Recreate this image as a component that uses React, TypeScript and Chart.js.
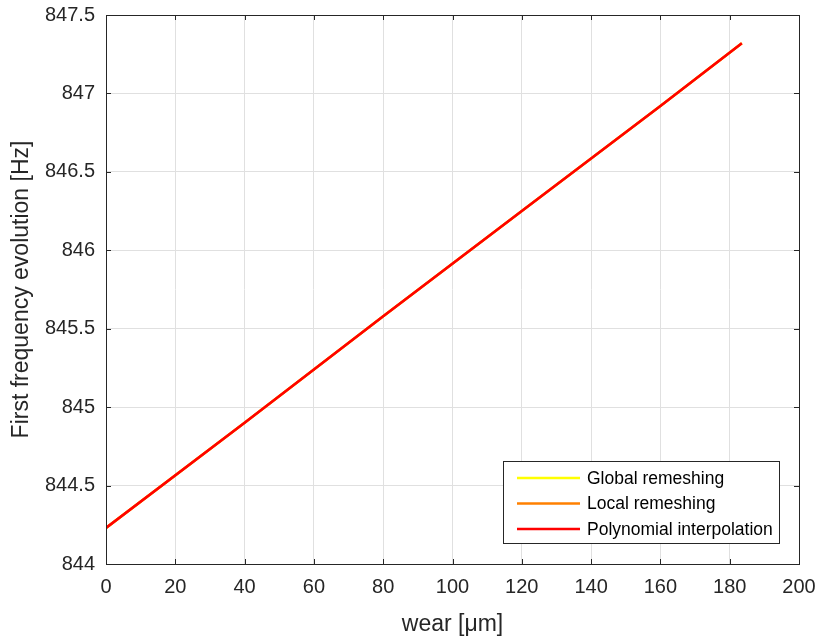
import React, { useEffect, useRef } from "react";
import { Chart, registerables } from "chart.js";

Chart.register(...registerables);

// ---- data ----
const wear = [0, 40, 80, 120, 160, 183.5];
const globalRemeshing = [844.23, 844.9, 845.58, 846.25, 846.92, 847.32];
const localRemeshing = [844.23, 844.9, 845.58, 846.25, 846.92, 847.32];
const polynomialInterpolation = [844.23, 844.9, 845.58, 846.25, 846.92, 847.32];

const seriesLabels = ["Global remeshing", "Local remeshing", "Polynomial interpolation"];
const seriesColors = ["#ffff00", "#ff8000", "#ff0000"];

const xTicks = [0, 20, 40, 60, 80, 100, 120, 140, 160, 180, 200];
const yTicks = [844, 844.5, 845, 845.5, 846, 846.5, 847, 847.5];
const xTitle = "wear [\u03BCm]";
const yTitle = "First frequency evolution [Hz]";

const TEXT = "#262626";
const FONT = "'Liberation Sans', Arial, sans-serif";

const frame = {
  id: "frame",
  afterDraw(chart: any) {
    const { ctx, chartArea: a, scales } = chart;
    ctx.save();
    // box
    ctx.strokeStyle = TEXT;
    ctx.lineWidth = 1;
    ctx.strokeRect(Math.round(a.left) + 0.5, Math.round(a.top) + 0.5, Math.round(a.right - a.left), Math.round(a.bottom - a.top));
    // inward tick marks
    const tl = 5;
    ctx.beginPath();
    xTicks.forEach((v) => {
      const x = Math.round(scales.x.getPixelForValue(v)) + 0.5;
      ctx.moveTo(x, a.bottom);
      ctx.lineTo(x, a.bottom - tl);
      ctx.moveTo(x, a.top);
      ctx.lineTo(x, a.top + tl);
    });
    yTicks.forEach((v) => {
      const y = Math.round(scales.y.getPixelForValue(v)) + 0.5;
      ctx.moveTo(a.left, y);
      ctx.lineTo(a.left + tl, y);
      ctx.moveTo(a.right, y);
      ctx.lineTo(a.right - tl, y);
    });
    ctx.stroke();

    // axis titles
    ctx.fillStyle = TEXT;
    ctx.font = `23px ${FONT}`;
    ctx.textAlign = "center";
    ctx.textBaseline = "middle";
    ctx.fillText(xTitle, (a.left + a.right) / 2, 625);
    ctx.translate(22, (a.top + a.bottom) / 2);
    ctx.rotate(-Math.PI / 2);
    ctx.fillText(yTitle, 0, 0);
    ctx.restore();

    // legend
    ctx.save();
    const bx = 503, by = 461, bw = 276, bh = 82;
    ctx.fillStyle = "#ffffff";
    ctx.fillRect(bx, by, bw, bh);
    ctx.strokeStyle = TEXT;
    ctx.lineWidth = 1;
    ctx.strokeRect(bx + 0.5, by + 0.5, bw, bh);
    const rows = [478, 503.5, 529];
    ctx.font = `17.5px ${FONT}`;
    ctx.textAlign = "left";
    ctx.textBaseline = "middle";
    chart.data.datasets.forEach((ds: any, i: number) => {
      const y = rows[i];
      ctx.strokeStyle = ds.borderColor;
      ctx.lineWidth = 2.5;
      ctx.beginPath();
      ctx.moveTo(517, y);
      ctx.lineTo(580, y);
      ctx.stroke();
      ctx.fillStyle = "#000000";
      ctx.fillText(ds.label, 587, y + 1);
    });
    ctx.restore();
  },
};

const zeroPad = (s: any) => {
  s.paddingTop = 0;
  s.paddingBottom = 0;
  s.paddingLeft = 0;
  s.paddingRight = 0;
};

export default function App() {
  const ref = useRef<HTMLCanvasElement | null>(null);
  useEffect(() => {
    document.body.style.margin = "0";
    const mk = (vals: number[]) => wear.map((x, i) => ({ x, y: vals[i] }));
    const seriesData = [globalRemeshing, localRemeshing, polynomialInterpolation];
    const chart = new Chart(ref.current as HTMLCanvasElement, {
      type: "line",
      data: {
        datasets: seriesData.map((vals, i) => ({
          label: seriesLabels[i],
          data: mk(vals),
          borderColor: seriesColors[i],
          backgroundColor: seriesColors[i],
          borderWidth: 2.5,
          pointRadius: 0,
          tension: 0,
          fill: false,
          order: 2 - i,
        })),
      },
      options: {
        animation: false,
        responsive: false,
        layout: { padding: { top: 15, right: 20, left: 0, bottom: 0 } },
        plugins: { legend: { display: false }, tooltip: { enabled: false } },
        scales: {
          x: {
            type: "linear",
            min: 0,
            max: 200,
            afterFit: (s: any) => { s.height = 73; zeroPad(s); },
            afterBuildTicks: (s: any) => { s.ticks = xTicks.map((v) => ({ value: v })); },
            grid: { color: "#e0e0e0", lineWidth: 1, drawTicks: false },
            border: { display: false },
            ticks: {
              color: TEXT,
              font: { family: FONT, size: 20 },
              padding: 11,
              maxRotation: 0,
              callback: (v: any) => String(v),
            },
          },
          y: {
            type: "linear",
            min: 844,
            max: 847.5,
            afterFit: (s: any) => { s.width = 106; zeroPad(s); },
            afterBuildTicks: (s: any) => { s.ticks = yTicks.map((v) => ({ value: v })); },
            grid: { color: "#e0e0e0", lineWidth: 1, drawTicks: false },
            border: { display: false },
            ticks: {
              color: TEXT,
              font: { family: FONT, size: 20 },
              padding: 11,
              callback: (v: any) => String(v),
            },
          },
        },
      },
      plugins: [frame],
    });
    return () => chart.destroy();
  }, []);
  return (
    <div style={{ width: 819, height: 637, background: "#fff" }}>
      <canvas ref={ref} width={819} height={637} />
    </div>
  );
}
